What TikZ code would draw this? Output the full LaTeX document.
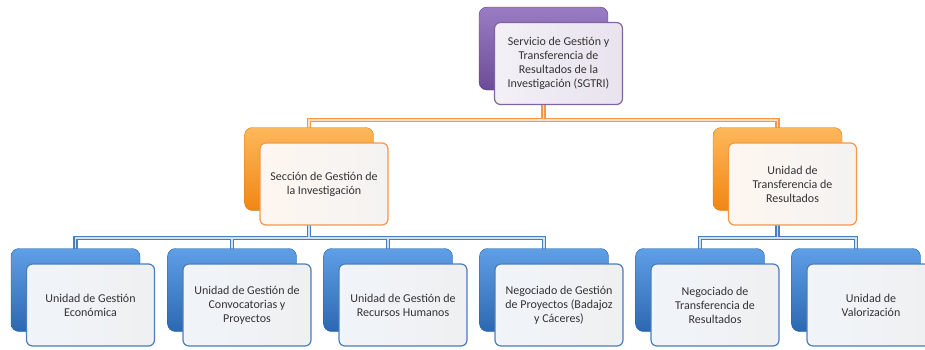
\documentclass[tikz,border=0pt]{standalone}
\usepackage{fontspec}
\setmainfont{Carlito}
\usetikzlibrary{backgrounds, calc}

\definecolor{purpA}{HTML}{9A7CC4}
\definecolor{purpB}{HTML}{6C4C98}
\definecolor{purpE}{HTML}{8064A2}
\definecolor{orA}{HTML}{FDB85A}
\definecolor{orB}{HTML}{F08614}
\definecolor{orE}{HTML}{F79646}
\definecolor{blA}{HTML}{5F9FE6}
\definecolor{blB}{HTML}{2C68B2}
\definecolor{blE}{HTML}{4A7EBB}
\definecolor{txt}{HTML}{333333}

\tikzset{
  back/.style={rounded corners=8pt, minimum width=129pt, minimum height=83pt, inner sep=0pt},
  front/.style={rounded corners=6pt, minimum width=128pt, minimum height=82pt, inner sep=2pt,
    line width=1.2pt, align=center, text=txt, font=\fontsize{12}{14}\selectfont},
  purpback/.style={back, draw=purpB!80!black, top color=purpA, bottom color=purpB},
  orback/.style={back, draw=orB!90!black, top color=orA, bottom color=orB},
  blback/.style={back, draw=blB!90!black, top color=blA, bottom color=blB},
  purpfront/.style={front, draw=purpE, left color=purpE!10, right color=purpE!18},
  orfront/.style={front, draw=orE, left color=orE!8, right color=orE!14!gray!10},
  blfront/.style={front, draw=blE, left color=blE!8, right color=blE!14!gray!12},
  orlink/.style={draw=orE, line width=1.5pt, double=orE!30, double distance=1.1pt},
  bllink/.style={draw=blE, line width=1.5pt, double=blE!25, double distance=1.1pt}
}

\begin{document}
\begin{tikzpicture}[x=1pt, y=-1pt]
	\useasboundingbox (0,0) rectangle (925,349);

	% top
	\node[purpback] (sgtri) at (543.5,48.5) {};
	\node[purpfront] (sgtrif) at ($(sgtri)+(15,15)$) {Servicio de Gestión y\\Transferencia de\\Resultados de la\\Investigación (SGTRI)};

	% second level
	\node[orback] (sgi) at (309,169) {};
	\node[orfront] (sgif) at ($(sgi)+(15,15)$) {Sección de Gestión de\\la Investigación};

	\node[orback] (utr) at (777.5,169) {};
	\node[orfront] (utrf) at ($(utr)+(15,15)$) {Unidad de\\Transferencia de\\Resultados};

	% third level
	\node[blback] (uge) at (75.5,290) {};
	\node[blfront] (ugef) at ($(uge)+(15,15)$) {Unidad de Gestión\\Económica};

	\node[blback] (ugcp) at (232,290) {};
	\node[blfront] (ugcpf) at ($(ugcp)+(15,15)$) {Unidad de Gestión de\\Convocatorias y\\Proyectos};

	\node[blback] (ugrh) at (388,290) {};
	\node[blfront] (ugrhf) at ($(ugrh)+(15,15)$) {Unidad de Gestión de\\Recursos Humanos};

	\node[blback] (ngp) at (544,290) {};
	\node[blfront] (ngpf) at ($(ngp)+(15,15)$) {Negociado de Gestión\\de Proyectos (Badajoz\\y Cáceres)};

	\node[blback] (ntr) at (700,290) {};
	\node[blfront] (ntrf) at ($(ntr)+(15,15)$) {Negociado de\\Transferencia de\\Resultados};

	\node[blback] (uv) at (856,290) {};
	\node[blfront] (uvf) at ($(uv)+(15,15)$) {Unidad de\\Valorización};

	\coordinate (bus1) at (0,120);
	\coordinate (bus2) at (0,238);

	\begin{pgfonlayer}{background}
		\draw[orlink] (sgtri.center) -- (sgtri.center |- bus1) -| (sgi.center)
			(sgtri.center |- bus1) -| (utr.center);

		\draw[bllink] (sgi.center) -- (sgi.center |- bus2) -| (uge.center)
			(sgi.center |- bus2) -| (ngp.center)
			(ugcp.center) -- (ugcp.center |- bus2)
			(ugrh.center) -- (ugrh.center |- bus2);
		\draw[bllink] (utr.center) -- (utr.center |- bus2) -| (ntr.center)
			(utr.center |- bus2) -| (uv.center);
	\end{pgfonlayer}
\end{tikzpicture}
\end{document}
